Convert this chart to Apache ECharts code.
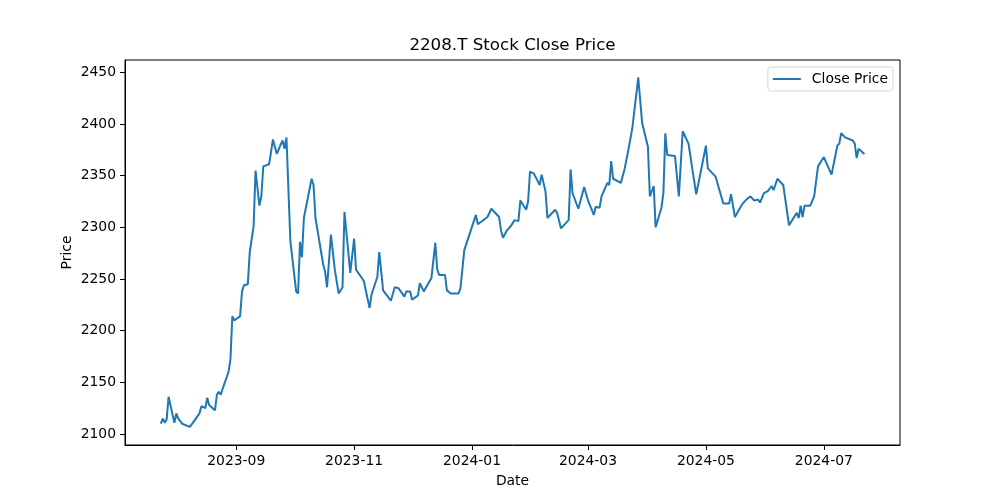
<!DOCTYPE html>
<html>
<head>
<meta charset="utf-8">
<title>2208.T Stock Close Price</title>
<script src="https://cdn.jsdelivr.net/npm/echarts@6/dist/echarts.min.js"></script>
<style>
  html, body { margin: 0; padding: 0; background: #fff; }
  #chart { width: 1000px; height: 500px; }
</style>
</head>
<body>
<div id="chart"></div>
<script>
// trading dates (line vertices)
var dates = [
  '2023-07-24','2023-07-25','2023-07-26','2023-07-27','2023-07-28','2023-07-31','2023-08-01','2023-08-02','2023-08-04','2023-08-08',
  '2023-08-10','2023-08-13','2023-08-14','2023-08-16','2023-08-17','2023-08-18','2023-08-21','2023-08-22','2023-08-23','2023-08-24',
  '2023-08-25','2023-08-28','2023-08-29','2023-08-30','2023-08-31',
  '2023-09-03','2023-09-04','2023-09-05','2023-09-07','2023-09-08','2023-09-10','2023-09-11','2023-09-13','2023-09-14','2023-09-15',
  '2023-09-18','2023-09-20','2023-09-21','2023-09-22','2023-09-24','2023-09-25','2023-09-26','2023-09-27','2023-09-29',
  '2023-10-02','2023-10-03','2023-10-04','2023-10-05','2023-10-06','2023-10-10','2023-10-11','2023-10-12','2023-10-16','2023-10-17',
  '2023-10-18','2023-10-20','2023-10-22','2023-10-24','2023-10-26','2023-10-27','2023-10-30',
  '2023-11-01','2023-11-02','2023-11-05','2023-11-06','2023-11-09','2023-11-10','2023-11-13','2023-11-14','2023-11-16','2023-11-20',
  '2023-11-22','2023-11-24','2023-11-27','2023-11-28','2023-11-30',
  '2023-12-01','2023-12-04','2023-12-05','2023-12-07','2023-12-11','2023-12-13','2023-12-14','2023-12-15','2023-12-18','2023-12-19',
  '2023-12-21','2023-12-25','2023-12-26','2023-12-28',
  '2024-01-03','2024-01-04','2024-01-09','2024-01-11','2024-01-15','2024-01-16','2024-01-17','2024-01-19','2024-01-21','2024-01-23',
  '2024-01-25','2024-01-26','2024-01-29','2024-01-30','2024-01-31',
  '2024-02-02','2024-02-05','2024-02-06','2024-02-08','2024-02-09','2024-02-13','2024-02-14','2024-02-16','2024-02-20','2024-02-21',
  '2024-02-22','2024-02-25','2024-02-28','2024-02-29',
  '2024-03-01','2024-03-04','2024-03-05','2024-03-07','2024-03-08','2024-03-11','2024-03-12','2024-03-13','2024-03-14','2024-03-15',
  '2024-03-18','2024-03-20','2024-03-22','2024-03-24','2024-03-27','2024-03-29',
  '2024-04-01','2024-04-02','2024-04-03','2024-04-04','2024-04-05','2024-04-08','2024-04-09','2024-04-10','2024-04-11','2024-04-15',
  '2024-04-17','2024-04-19','2024-04-22','2024-04-24','2024-04-25','2024-04-26',
  '2024-05-01','2024-05-02','2024-05-06','2024-05-08','2024-05-09','2024-05-10','2024-05-13','2024-05-14','2024-05-16','2024-05-17',
  '2024-05-20','2024-05-22','2024-05-24','2024-05-26','2024-05-28','2024-05-29','2024-05-31',
  '2024-06-02','2024-06-04','2024-06-05','2024-06-06','2024-06-07','2024-06-10','2024-06-11','2024-06-13','2024-06-17','2024-06-18',
  '2024-06-19','2024-06-20','2024-06-21','2024-06-24','2024-06-26','2024-06-28',
  '2024-07-01','2024-07-05','2024-07-08','2024-07-09','2024-07-10','2024-07-11','2024-07-12','2024-07-16','2024-07-17','2024-07-18',
  '2024-07-19','2024-07-22'
];

var closePrices = [
  2110, 2115, 2111, 2114, 2136, 2111, 2120, 2115, 2110, 2107,
  2112, 2120, 2127, 2125, 2135, 2128, 2123, 2138, 2141, 2138,
  2144, 2160, 2172, 2214, 2210,
  2214, 2238, 2244, 2245, 2276, 2301, 2355, 2321, 2330, 2359,
  2361, 2385, 2384, 2371, 2380, 2384, 2376, 2387, 2287,
  2238, 2236, 2286, 2271, 2309, 2347, 2341, 2309, 2264, 2257,
  2242, 2293, 2259, 2236, 2242, 2315, 2256,
  2289, 2259, 2251, 2248, 2222, 2235, 2252, 2276, 2239, 2229,
  2242, 2241, 2233, 2238, 2238,
  2230, 2234, 2246, 2238, 2251, 2285, 2259, 2254, 2254, 2239,
  2236, 2236, 2241, 2278,
  2312, 2303, 2310, 2318, 2310, 2297, 2290, 2297, 2301, 2307,
  2306, 2326, 2317, 2325, 2354,
  2352, 2341, 2351, 2335, 2309, 2317, 2314, 2299, 2307, 2356,
  2333, 2318, 2339, 2339,
  2326, 2312, 2320, 2319, 2330, 2343, 2341, 2364, 2347, 2347,
  2343, 2357, 2376, 2397, 2445, 2401,
  2378, 2330, 2330, 2340, 2300, 2319, 2333, 2391, 2370, 2369,
  2330, 2393, 2381, 2356, 2355, 2332,
  2379, 2357, 2349, 2336, 2335, 2323, 2323, 2332, 2310, 2310,
  2323, 2327, 2330, 2326, 2327, 2324, 2333,
  2335, 2340, 2336, 2336, 2347, 2341, 2328, 2302, 2314, 2309,
  2321, 2310, 2321, 2321, 2330, 2359,
  2368, 2351, 2379, 2381, 2391, 2391, 2387, 2384, 2381, 2367,
  2376, 2371
];

var xTickLabels = ['2023-09', '2023-11', '2024-01', '2024-03', '2024-05', '2024-07'];
var yTickValues = [2100, 2150, 2200, 2250, 2300, 2350, 2400, 2450];

// dates -> ms timestamps (UTC) so a plain value axis can carry them
function toTime(s) {
  var day = s.length > 7 ? +s.slice(8, 10) : 1;
  return Date.UTC(+s.slice(0, 4), +s.slice(5, 7) - 1, day);
}
function pad2(n) { return n < 10 ? '0' + n : '' + n; }

var xTicks = xTickLabels.map(toTime);
var seriesData = dates.map(function (d, i) { return [toTime(d), closePrices[i]]; });

var font = 'DejaVu Sans';
var chart = echarts.init(document.getElementById('chart'), null, { renderer: 'canvas', width: 1000, height: 500 });

chart.setOption({
  animation: false,
  backgroundColor: '#fff',
  textStyle: { fontFamily: font },
  title: {
    text: '2208.T Stock Close Price',
    left: 507.5,
    top: 32,
    textAlign: 'center',
    textStyle: { fontFamily: font, fontSize: 16.7, fontWeight: 'normal', color: '#000' }
  },
  legend: {
    right: 107,
    top: 67,
    icon: 'rect',
    itemWidth: 28,
    itemHeight: 2,
    padding: [5, 5, 5, 5],
    backgroundColor: '#fff',
    borderColor: '#d6d6d6',
    borderWidth: 1,
    borderRadius: 3,
    textStyle: { fontFamily: font, fontSize: 13.9, color: '#000', padding: [0, 0, 0, 6] }
  },
  grid: {
    left: 125,
    right: 100,
    top: 60,
    bottom: 55,
    show: true,
    borderColor: '#000',
    borderWidth: 1,
    backgroundColor: 'transparent'
  },
  xAxis: {
    type: 'value',
    min: Date.UTC(2023, 6, 5, 11),
    max: Date.UTC(2024, 7, 9, 10),
    name: 'Date',
    nameLocation: 'middle',
    nameGap: 29,
    nameTextStyle: { fontFamily: font, fontSize: 13.9, color: '#000' },
    axisLine: { show: true, lineStyle: { color: '#000', width: 1 } },
    axisTick: { show: true, length: 5, customValues: xTicks, lineStyle: { color: '#000' } },
    axisLabel: {
      customValues: xTicks,
      margin: 9,
      fontFamily: font,
      fontSize: 13.9,
      color: '#000',
      hideOverlap: false,
      showMinLabel: true,
      showMaxLabel: true,
      formatter: function (v) {
        var d = new Date(v);
        return d.getUTCFullYear() + '-' + pad2(d.getUTCMonth() + 1);
      }
    },
    splitLine: { show: false }
  },
  yAxis: {
    type: 'value',
    min: 2089.4,
    max: 2461.9,
    name: 'Price',
    nameLocation: 'middle',
    nameGap: 51,
    nameMoveOverlap: false,
    nameTextStyle: { fontFamily: font, fontSize: 13.9, color: '#000' },
    axisLine: { show: true, lineStyle: { color: '#000', width: 1 } },
    axisTick: { show: true, length: 5, customValues: yTickValues, lineStyle: { color: '#000' } },
    axisLabel: {
      customValues: yTickValues,
      margin: 9,
      fontFamily: font,
      fontSize: 13.9,
      color: '#000',
      formatter: function (v) { return String(v); }
    },
    splitLine: { show: false }
  },
  series: [
    {
      name: 'Close Price',
      type: 'line',
      data: seriesData,
      showSymbol: false,
      symbol: 'none',
      color: '#1f77b4',
      lineStyle: { color: '#1f77b4', width: 2 }
    }
  ]
});
</script>
</body>
</html>
